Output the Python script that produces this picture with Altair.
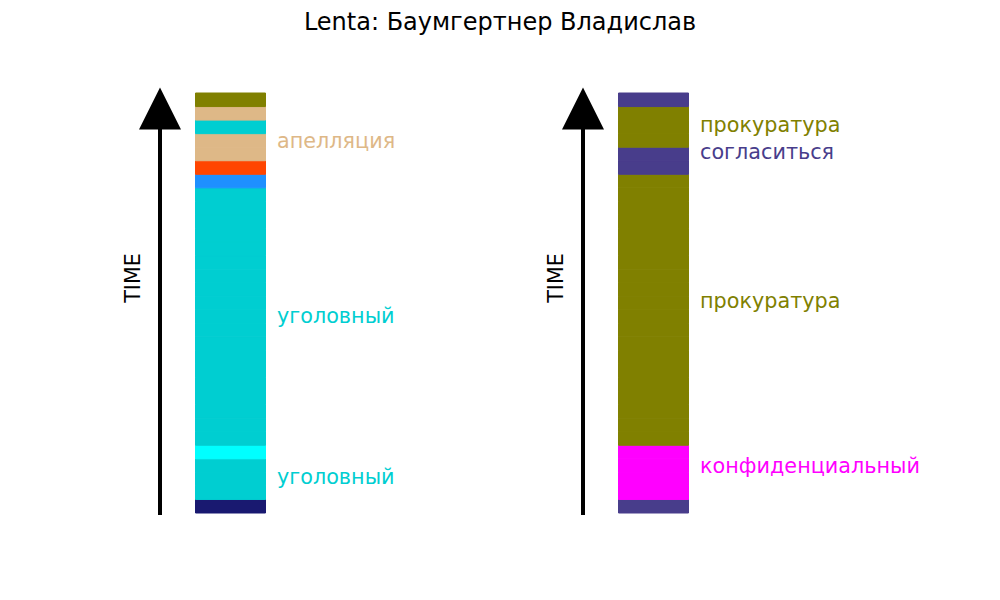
import altair as alt
import pandas as pd

title_text = "Lenta: Баумгертнер Владислав"
axis_label = "TIME"

# colour runs from bottom (earliest) to top (latest), one unit of time per slice
left_run_colors = ["midnightblue", "darkturquoise", "cyan", "darkturquoise", "dodgerblue",
                   "orangered", "burlywood", "darkturquoise", "burlywood", "olive"]
left_run_lengths = [1, 3, 1, 19, 1, 1, 2, 1, 1, 1]
right_run_colors = ["darkslateblue", "magenta", "olive", "darkslateblue", "olive", "darkslateblue"]
right_run_lengths = [1, 4, 20, 2, 3, 1]

left_labels = ["апелляция", "уголовный", "уголовный"]
left_label_colors = ["burlywood", "darkturquoise", "darkturquoise"]
left_label_times = [27.4, 14.5, 2.55]
right_labels = ["прокуратура", "согласиться", "прокуратура", "конфиденциальный"]
right_label_colors = ["olive", "darkslateblue", "olive", "magenta"]
right_label_times = [28.55, 26.55, 15.6, 3.4]

FONT = "DejaVu Sans"
T_MAX = 31
# arrow geometry in time units (layout only)
ARROW_START, ARROW_END, HEAD_CENTER, TIME_LABEL_AT = -0.15, 28.4, 29.86, 17.35


def yscale():
    return alt.Scale(domain=[0, T_MAX], range=[513, 93], zero=False, nice=False)


def segments(colors, lengths):
    rows, t = [], 0
    for c, n in zip(colors, lengths):
        for _ in range(n):
            rows.append({"t0": t, "t1": t + 1, "color": c})
            t += 1
    return pd.DataFrame(rows)


def panel(colors, lengths, labels, label_colors, label_times, x0):
    seg = segments(colors, lengths)
    lab = pd.DataFrame({"label": labels, "color": label_colors, "t": label_times})
    bars = alt.Chart(seg).mark_rect(strokeWidth=1, strokeOpacity=1).encode(
        y=alt.Y("t0:Q", scale=yscale(), axis=None),
        y2="t1:Q",
        x=alt.value(x0 + 35.5), x2=alt.value(x0 + 105.5),
        color=alt.Color("color:N", scale=None),
        stroke=alt.Stroke("color:N", scale=None),
    )
    arrow_line = alt.Chart(pd.DataFrame({"t0": [ARROW_START], "t1": [ARROW_END]})).mark_rule(
        color="black", strokeWidth=4
    ).encode(
        x=alt.value(x0), y=alt.Y("t0:Q", scale=yscale(), axis=None), y2="t1:Q"
    )
    arrow_head = alt.Chart(pd.DataFrame({"t": [HEAD_CENTER]})).mark_point(
        shape="M0,-1L1,1L-1,1Z", size=1764, filled=True, color="black",
        opacity=1, strokeWidth=0
    ).encode(x=alt.value(x0), y=alt.Y("t:Q", scale=yscale(), axis=None))
    time_txt = alt.Chart(pd.DataFrame({"label": [axis_label], "t": [TIME_LABEL_AT]})).mark_text(
        angle=270, font=FONT, fontSize=20.75, align="center", baseline="middle", color="black"
    ).encode(x=alt.value(x0 - 26), y=alt.Y("t:Q", scale=yscale(), axis=None), text="label:N")
    texts = alt.Chart(lab).mark_text(
        font=FONT, fontSize=20.75, align="left", baseline="middle"
    ).encode(
        x=alt.value(x0 + 117),
        y=alt.Y("t:Q", scale=yscale(), axis=None),
        text="label:N",
        color=alt.Color("color:N", scale=None),
    )
    return [bars, arrow_line, arrow_head, time_txt, texts]


title = alt.Chart(pd.DataFrame({"label": [title_text]})).mark_text(
    font=FONT, fontSize=24, align="center", baseline="middle", color="black"
).encode(x=alt.value(500), y=alt.value(23), text="label:N")

layers = (panel(left_run_colors, left_run_lengths, left_labels, left_label_colors, left_label_times, 160)
          + panel(right_run_colors, right_run_lengths, right_labels, right_label_colors, right_label_times, 583)
          + [title])

chart = alt.layer(*layers).properties(
    width=1000, height=600, padding=0, autosize="none", background="white"
).configure_view(stroke=None)

chart.save("out.html", embed_options={"renderer": "svg", "actions": False})
